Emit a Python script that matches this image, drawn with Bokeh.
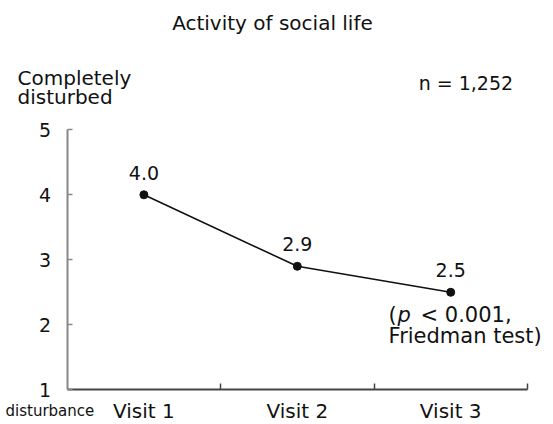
import numpy as np
from bokeh.plotting import figure
from bokeh.models import Range1d, FixedTicker, Label, ColumnDataSource
from bokeh.core.properties import value
from bokeh.embed import file_html
from bokeh.resources import INLINE

# ---- data ----
visits = ["Visit 1", "Visit 2", "Visit 3"]
scores = [4.0, 2.9, 2.5]
score_labels = ["4.0", "2.9", "2.5"]
y_ticks = [1, 2, 3, 4, 5]
title_text = "Activity of social life"
n_text = "n = 1,252"

FONT = "DejaVu Sans"
TXT = "#111111"

x_pos = list(np.arange(len(visits)) + 0.5)

p = figure(width=553, height=424, output_backend="svg", toolbar_location=None,
           x_range=Range1d(-0.4348, 3.170), y_range=Range1d(0.466, 6.989),
           min_border_left=0, min_border_right=0, min_border_top=0,
           min_border_bottom=0)
p.outline_line_color = None
p.grid.visible = False
p.background_fill_color = "white"
p.border_fill_color = "white"

# x axis
xa = p.xaxis[0]
xa.fixed_location = 1
xa.ticker = FixedTicker(ticks=x_pos, minor_ticks=list(range(1, len(visits) + 1)))
xa.major_label_overrides = {float(x): v for x, v in zip(x_pos, visits)}
xa.bounds = (0, len(visits))
xa.axis_line_color = "#444444"
xa.axis_line_width = 2
xa.major_tick_line_color = None
xa.minor_tick_line_color = "#444444"
xa.minor_tick_line_width = 1.5
xa.minor_tick_in = 6
xa.minor_tick_out = 0
xa.major_label_standoff = 3
xa.major_label_text_font = FONT
xa.major_label_text_font_size = "20px"
xa.major_label_text_color = TXT

# y axis
ya = p.yaxis[0]
ya.fixed_location = 0
ya.ticker = FixedTicker(ticks=y_ticks, minor_ticks=[])
ya.bounds = (1, 5)
ya.axis_line_color = "#888888"
ya.axis_line_width = 2
ya.major_tick_line_color = "#888888"
ya.major_tick_line_width = 1.5
ya.major_tick_in = 5
ya.major_tick_out = 0
ya.minor_tick_line_color = None
ya.major_label_standoff = 16
ya.major_label_text_font = FONT
ya.major_label_text_font_size = "19px"
ya.major_label_text_color = TXT

# line + points
src = ColumnDataSource(dict(x=x_pos, y=scores, t=score_labels))
p.line("x", "y", source=src, line_color="#111111", line_width=1.6)
p.scatter("x", "y", source=src, size=8, fill_color="#111111", line_color="#111111")
p.text("x", "y", text="t", source=src, y_offset=-22, text_align="center",
       text_baseline="alphabetic", text_font=value(FONT), text_font_size="19px",
       text_color=TXT)

def lab(x, y, t, size="20px", align="left", style="normal"):
    p.add_layout(Label(x=x, y=y, text=t, text_font=FONT, text_font_size=size,
                       text_align=align, text_baseline="alphabetic",
                       text_color=TXT, text_font_style=style))

lab(1.338, 6.64, title_text, align="center")
lab(-0.324, 5.79, "Completely")
lab(-0.324, 5.50, "disturbed")
lab(2.291, 5.715, n_text, size="19px")
lab(-0.402, 0.68, "disturbance", size="15px")
lab(2.095, 2.145, "(", size="21px")
lab(2.153, 2.145, "p", size="21px", style="italic")
lab(2.303, 2.145, "< 0.001,", size="21px")
lab(2.095, 1.822, "Friedman test)", size="21px")

open("out.html", "w").write(file_html(p, INLINE))
